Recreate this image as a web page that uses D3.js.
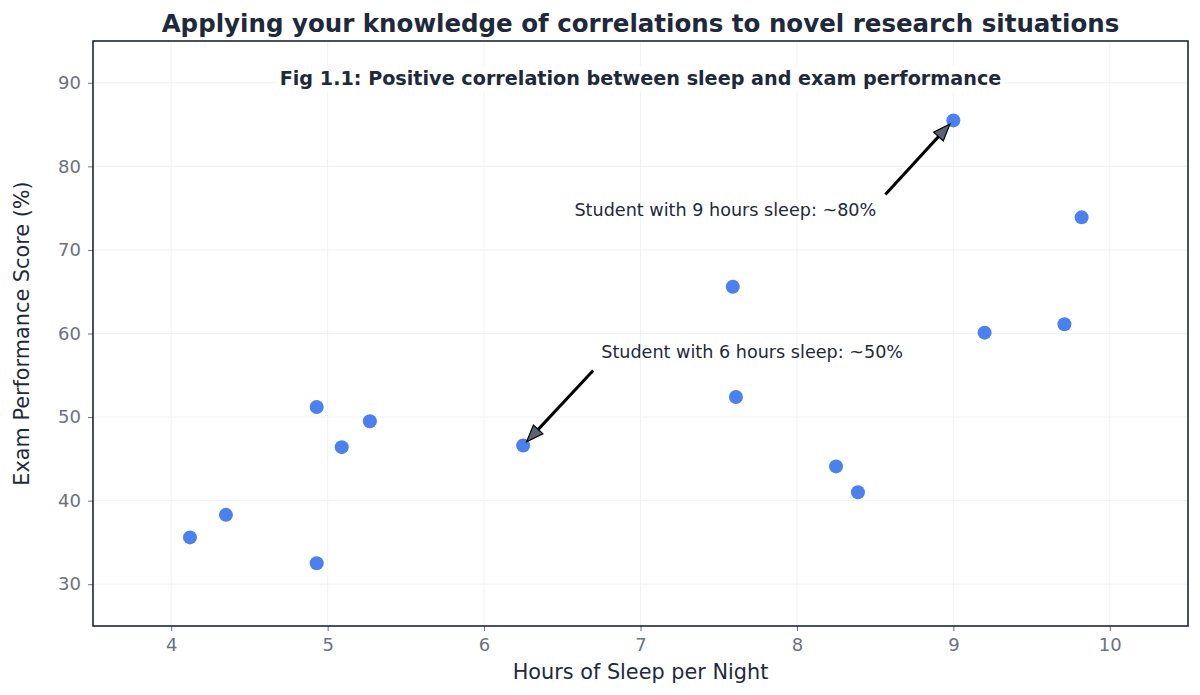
<!DOCTYPE html>
<html>
<head>
<meta charset="utf-8">
<script src="https://cdn.jsdelivr.net/npm/d3@7"></script>
<style>
  html, body { margin: 0; padding: 0; background: #fff; }
  svg { display: block; font-family: "DejaVu Sans", sans-serif; }
</style>
</head>
<body>
<svg id="chart" width="1200" height="695"></svg>
<script>
// ---- data ----
const sleepHours = [4.12, 4.35, 4.93, 4.93, 5.09, 5.27, 6.25, 7.59, 7.61, 8.25, 8.39, 9.0, 9.2, 9.71, 9.82];
const examScores = [35.6, 38.3, 32.5, 51.2, 46.4, 49.5, 46.6, 65.6, 52.4, 44.1, 41.0, 85.5, 60.1, 61.1, 73.9];
const xTicks = [4, 5, 6, 7, 8, 9, 10];
const yTicks = [30, 40, 50, 60, 70, 80, 90];
const annotationTexts = ["Student with 9 hours sleep: ~80%", "Student with 6 hours sleep: ~50%"];
const annotationTargetsX = [9.0, 6.25];
const annotationTargetsY = [85.5, 46.6];

const titleText = "Applying your knowledge of correlations to novel research situations";
const subtitleText = "Fig 1.1: Positive correlation between sleep and exam performance";
const xTitle = "Hours of Sleep per Night";
const yTitle = "Exam Performance Score (%)";

// ---- layout ----
const W = 1200, H = 695;
const m = { left: 93, right: 12, top: 41, bottom: 69 };
const iw = W - m.left - m.right, ih = H - m.top - m.bottom;

const svg = d3.select("#chart");
const x = d3.scaleLinear().domain([3.5, 10.5]).range([m.left, m.left + iw]);
const y = d3.scaleLinear().domain([25, 95]).range([m.top + ih, m.top]);

// grid
const grid = svg.append("g");
grid.selectAll(".gx").data(xTicks).join("line")
  .attr("x1", d => x(d)).attr("x2", d => x(d))
  .attr("y1", m.top).attr("y2", m.top + ih)
  .attr("stroke", "#f0f2f6").attr("stroke-width", 1);
grid.selectAll(".gy").data(yTicks).join("line")
  .attr("y1", d => y(d)).attr("y2", d => y(d))
  .attr("x1", m.left).attr("x2", m.left + iw)
  .attr("stroke", "#f0f2f6").attr("stroke-width", 1);

// axes
const fmt = d3.format("d");
const xAxis = svg.append("g").attr("transform", `translate(0,${m.top + ih})`)
  .call(d3.axisBottom(x).tickValues(xTicks).tickFormat(fmt).tickSize(5).tickPadding(7).tickSizeOuter(0));
const yAxis = svg.append("g").attr("transform", `translate(${m.left},0)`)
  .call(d3.axisLeft(y).tickValues(yTicks).tickFormat(fmt).tickSize(5).tickPadding(7).tickSizeOuter(0));
[xAxis, yAxis].forEach(a => {
  a.select(".domain").remove();
  a.selectAll(".tick line").attr("stroke", "#6b7280").attr("stroke-width", 1);
  a.selectAll(".tick text").attr("fill", "#6b7280")
    .style("font-family", "'DejaVu Sans', sans-serif").style("font-size", "18px");
});

// frame
svg.append("rect")
  .attr("x", m.left).attr("y", m.top).attr("width", iw).attr("height", ih)
  .attr("fill", "none").attr("stroke", "#111827").attr("stroke-width", 1.5);

// points
svg.append("g").selectAll("circle").data(sleepHours).join("circle")
  .attr("cx", d => x(d))
  .attr("cy", (d, i) => y(examScores[i]))
  .attr("r", 7)
  .attr("fill", "#4b80ef");

// subtitle annotation with white background
const sub = svg.append("g");
const subText = sub.append("text")
  .attr("x", m.left + iw / 2).attr("y", y(90) - 3)
  .attr("text-anchor", "middle").attr("dominant-baseline", "middle")
  .attr("fill", "#1e293b").attr("font-weight", "bold").attr("font-size", "19.2px")
  .text(subtitleText);
const sb = subText.node().getBBox();
sub.insert("rect", "text").attr("x", sb.x - 3).attr("y", sb.y - 2)
  .attr("width", sb.width + 6).attr("height", sb.height + 4).attr("fill", "#fff");

// arrow annotations (offsets in pixels relative to the target point)
const tailDx = [-68, 70], tailDy = [74, -75];
const textDx = [-228, 229], textDy = [91, -92];
const standoff = 5;
const ann = svg.append("g");
annotationTexts.forEach((t, i) => {
  const px = x(annotationTargetsX[i]), py = y(annotationTargetsY[i]);
  const tx = px + tailDx[i], ty = py + tailDy[i];
  const dx = px - tx, dy = py - ty;
  const len = Math.hypot(dx, dy);
  const ux = dx / len, uy = dy / len;
  const tipX = px - ux * standoff, tipY = py - uy * standoff;
  const headLen = 17, headW = 6.5;
  const baseX = tipX - ux * headLen, baseY = tipY - uy * headLen;
  ann.append("line")
    .attr("x1", tx).attr("y1", ty).attr("x2", baseX + ux * 2).attr("y2", baseY + uy * 2)
    .attr("stroke", "#000").attr("stroke-width", 3);
  ann.append("path")
    .attr("d", `M${tipX},${tipY} L${baseX - uy * headW},${baseY + ux * headW} L${baseX + uy * headW},${baseY - ux * headW} Z`)
    .attr("fill", "#5b6270").attr("stroke", "#000").attr("stroke-width", 1.2)
    .attr("stroke-linejoin", "miter");
  ann.append("text")
    .attr("x", px + textDx[i]).attr("y", py + textDy[i])
    .attr("text-anchor", "middle").attr("dominant-baseline", "middle")
    .attr("fill", "#1e293b").attr("font-size", "17.6px")
    .text(t);
});

// title
svg.append("text")
  .attr("x", m.left + iw / 2).attr("y", 32)
  .attr("text-anchor", "middle")
  .attr("fill", "#1e293b").attr("font-weight", "bold").attr("font-size", "24.5px")
  .text(titleText);

// axis titles
svg.append("text")
  .attr("x", m.left + iw / 2).attr("y", 679)
  .attr("text-anchor", "middle")
  .attr("fill", "#1e293b").attr("font-size", "20.8px")
  .text(xTitle);
svg.append("text")
  .attr("transform", `translate(29,${m.top + ih / 2}) rotate(-90)`)
  .attr("text-anchor", "middle")
  .attr("fill", "#1e293b").attr("font-size", "20.8px")
  .text(yTitle);
</script>
</body>
</html>
